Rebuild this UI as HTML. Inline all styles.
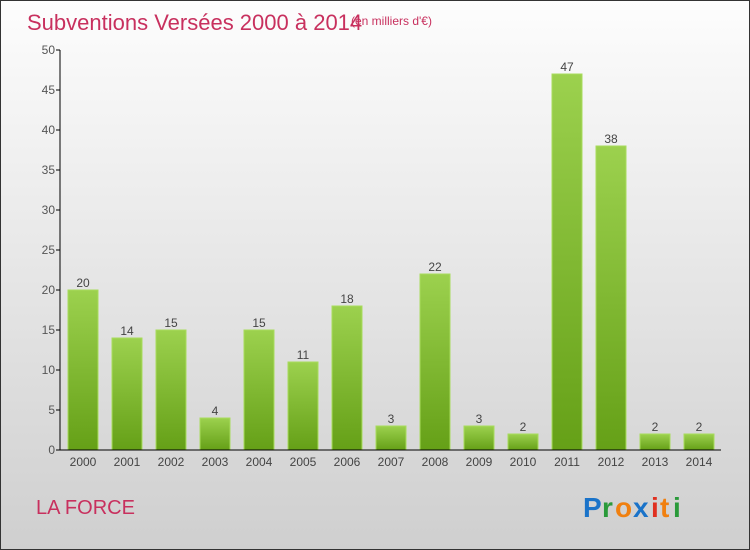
<!DOCTYPE html>
<html><head><meta charset="utf-8"><style>
body{margin:0}
#c{position:relative;width:748px;height:548px;border:1px solid #333;background:linear-gradient(#fdfdfd,#cfcfcf);font-family:"Liberation Sans",sans-serif;overflow:hidden}
</style></head><body>
<div id="c">
<svg width="748" height="548" id="s">
<text x="26" y="29" font-size="22" fill="#c8305e">Subventions Versées 2000 à 2014</text>
<text x="350" y="24" font-size="12" fill="#c8305e">(en milliers d'€)</text>
<text x="35" y="513" font-size="20" fill="#c8305e">LA FORCE</text>
<g font-size="28" font-weight="bold">
<text x="582" y="516" fill="#1a73c9">P</text><text x="601" y="516" fill="#2a9a3a">r</text><text x="614" y="516" fill="#f08010">o</text><text x="632" y="516" fill="#1a73c9">x</text><text x="650" y="516" fill="#e03020">i</text><text x="659" y="516" fill="#f08010">t</text><text x="672" y="516" fill="#2a9a3a">i</text>
</g>
<defs><linearGradient id="g" x1="0" y1="0" x2="0" y2="1"><stop offset="0" stop-color="#9cd14e"/><stop offset="1" stop-color="#65a017"/></linearGradient></defs>
<g id="plot"></g>
</svg></div>
<script>
const years=["2000","2001","2002","2003","2004","2005","2006","2007","2008","2009","2010","2011","2012","2013","2014"];
const values=[20,14,15,4,15,11,18,3,22,3,2,47,38,2,2];
const yTicks=[0,5,10,15,20,25,30,35,40,45,50];
const NS="http://www.w3.org/2000/svg";
const g=document.getElementById('plot');
const y0=449,pxU=8,x0=59,step=44,bw=30;
const yS=v=>y0-v*pxU;
const xS=i=>x0+8+i*step;
function mk(t,a){const e=document.createElementNS(NS,t);for(const k in a)e.setAttribute(k,a[k]);g.appendChild(e);return e;}
yTicks.forEach(v=>{
const l=mk('line',{x1:x0-4,x2:x0,y1:yS(v),y2:yS(v),stroke:'#000'});


const t=mk('text',{x:x0-5,y:yS(v)+4,'text-anchor':'end','font-size':12,fill:'#555'});
t.textContent=v;


});
values.forEach((v,i)=>{
const r=mk('rect',{x:xS(i),y:yS(v),width:bw,height:v*pxU,fill:'url(#g)',stroke:'#a8dc5c','stroke-width':1});


const t=mk('text',{x:xS(i)+bw/2,y:yS(v)-3,'text-anchor':'middle','font-size':12,fill:'#444'});
t.textContent=v;


const xl=mk('text',{x:xS(i)+bw/2,y:y0+16,'text-anchor':'middle','font-size':12,fill:'#444'});
xl.textContent=years[i];


});
const ya=mk('line',{x1:x0,x2:x0,y1:yS(50),y2:y0,stroke:'#000'});


const xa=mk('line',{x1:x0,x2:720,y1:y0,y2:y0,stroke:'#000'});


</script>
</body></html>
